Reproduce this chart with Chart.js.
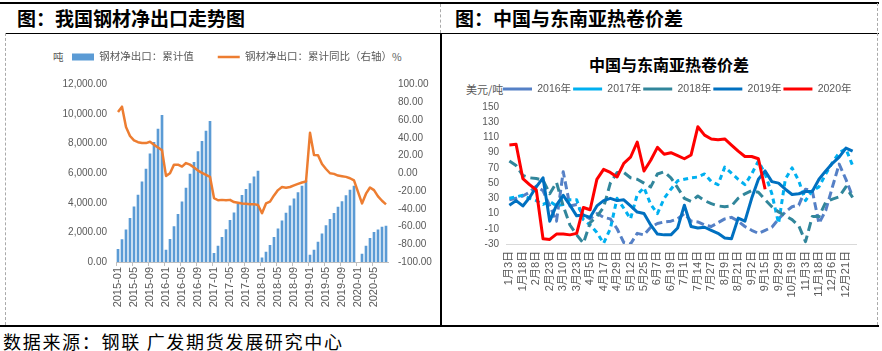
<!DOCTYPE html>
<html><head><meta charset="utf-8">
<script src="https://cdn.jsdelivr.net/npm/chart.js@4.4.1/dist/chart.umd.min.js"></script>
<style>
html,body{margin:0;padding:0;background:#fff;}
#wrap{position:relative;width:882px;height:351px;overflow:hidden;font-family:"Noto Sans CJK SC",sans-serif;}
.ln{position:absolute;}
.t{position:absolute;white-space:nowrap;line-height:1;}
canvas{position:absolute;}
</style></head><body>
<div id="wrap">
  <div class="ln" style="left:0;top:1.5px;width:879px;height:2px;background:#000"></div>
  <div class="ln" style="left:5px;top:32.5px;width:874px;height:1.6px;background:#000"></div>
  <div class="ln" style="left:5px;top:33px;width:0;height:292px;border-left:1px dashed #aaa"></div>
  <div class="ln" style="left:440px;top:4px;width:0;height:29px;border-left:1px dashed #aaa"></div>
  <div class="ln" style="left:440px;top:33px;width:2px;height:293px;background:#000"></div>
  <div class="ln" style="left:877px;top:3px;width:0;height:322px;border-left:1px dashed #aaa"></div>
  <div class="ln" style="left:0;top:324.5px;width:879px;height:2.5px;background:#000"></div>

  <div class="t" style="left:17px;top:8px;font-size:19px;font-weight:700;color:#000">图：我国钢材净出口走势图</div>
  <div class="t" style="left:455px;top:8px;font-size:19px;font-weight:700;color:#000">图：中国与东南亚热卷价差</div>
  <div class="t" style="left:589px;top:56px;font-size:16px;font-weight:700;color:#000">中国与东南亚热卷价差</div>
  <div class="t" style="left:53px;top:51.5px;font-size:10.5px;color:#595959">吨</div>
  <div class="t" style="left:392px;top:51.5px;font-size:10.5px;color:#595959">%</div>
  <div class="t" style="left:466px;top:83.5px;font-size:11px;color:#595959">美元/吨</div>
  <div class="t" style="left:3px;top:332px;font-size:18px;letter-spacing:1.7px;color:#000">数据来源：钢联 广发期货发展研究中心</div>

  <canvas id="cL" width="470" height="325" style="left:0;top:0"></canvas>
  <canvas id="cR" width="441" height="325" style="left:441px;top:0"></canvas>
</div>
<script>
// ---------- Left chart data ----------
const years = ['2015','2016','2017','2018','2019','2020'];
const monthNums = ['01','02','03','04','05','06','07','08','09','10','11','12'];
const monthLabels = [];
years.forEach(y => monthNums.forEach(m => monthLabels.push(y + '-' + m)));
monthLabels.length = 68; // 2015-01 .. 2020-08

const netExportCum = [
  850,1510,2180,2950,3730,4530,5420,6290,7310,8090,8980,9910,
  800,1530,2400,3220,4070,5000,5950,6730,7470,8150,8850,9510,
  580,1070,1670,2200,2820,3330,3910,4510,4910,5310,5750,6150,
  290,670,1130,1670,2240,2780,3310,3800,4270,4690,5130,5490,
  470,800,1350,1910,2470,2890,3290,3710,4090,4490,4870,5130,
  null,530,1070,1600,2000,2180,2360,2420
];
const netExportYoY = [
  69,75,52,42,37,35,34,34,35.5,32,29,26,
  -3,0,9.7,9.7,7.5,11.5,9.7,6.5,3,0.5,-1.8,-4,
  -28,-30.4,-30,-30.4,-30,-32.5,-33.3,-34,-34.4,-34.8,-34.8,-35.8,
  -45,-34,-32,-25,-19,-15.5,-16.3,-15.5,-13.7,-12,-10.4,-9.3,
  45.6,20.6,20.4,10.4,4.8,0,-0.7,-2.6,-3.3,-4.1,-5.6,-8.1,
  null,-34,-23,-16,-19,-26,-31,-35
];

// ---------- Right chart data ----------
const dateLabels = ['1月3日','1月18日','2月8日','2月23日','3月10日','3月23日','4月5日','4月17日','4月29日',
  '5月12日','5月25日','6月7日','6月19日','7月1日','7月14日','7月27日','8月9日','8月21日','9月2日',
  '9月15日','9月29日','10月19日','11月3日','11月18日','12月6日','12月21日'];
const spread2016 = [28,30,33,38,46,40,20,0,65,20,22,8,3,10,5,3,-10,-28,-30,-16,-18,-8,-3,-1,0,3,10,0,-1,-5,
  -7,-2,3,5,0,-7,-12,-16,-12,-8,3,12,19,21,42,40,-3,14,45,75,55,32];
const spread2017 = [30,32,34,30,27,22,26,20,22,28,28,2,-5,-15,-29,-10,30,17,3,35,44,22,10,30,42,53,55,57,58,62,
  52,48,71,63,55,48,62,79,62,36,-3,55,70,53,27,40,45,62,77,90,95,73];
const spread2018 = [79,73,60,57,56,54,36,51,20,-5,-18,-29,-2,6,18,50,64,64,57,55,50,45,62,65,57,44,30,26,33,27,
  23,20,19,20,30,36,40,38,28,19,12,7,2,-6,-27,6,6,25,29,32,45,31];
const spread2019 = [21,27,20,31,45,57,0,21,34,21,7,8,5,20,27,30,27,28,20,12,10,-5,-17,-18,-18,-9,21,-7,-9,-8,
  -12,-16,-22,-23,4,0,30,55,66,52,50,42,35,36,39,39,55,66,76,84,96,92];
const spread2020 = [100,101,56,48,41,-23,-24,-17,-17,-18,-16,18,15,55,68,64,58,76,84,104,66,80,97,88,90,86,82,87,124,113,
  108,107,108,100,92,85,85,82,42];
const weekCats = [];
dateLabels.forEach(d => { weekCats.push(d); weekCats.push(''); });

// ---------- common ----------
Chart.defaults.font.family = "'Liberation Sans','Noto Sans CJK SC',sans-serif";
Chart.defaults.color = '#595959';
Chart.defaults.animation = false;

const grayAxis = '#BFBFBF';

// moves the legend (after layout) so its first item starts at startX and its row is centred at centerY
function legendPlacer(startX, centerY) {
  return {
    id: 'legendPlacer',
    afterLayout(chart) {
      const lg = chart.legend;
      const o = lg.options.labels;
      const fs = o.font.size;
      const dy = centerY - (lg.top + o.padding + fs / 2);
      lg.top += dy; lg.bottom += dy;
      const dx = startX - (lg.left + o.padding);
      lg.left += dx; lg.right += dx;
    }
  };
}

new Chart(document.getElementById('cL'), {
  type: 'bar',
  data: {
    labels: monthLabels,
    datasets: [
      { type: 'bar', label: '钢材净出口：累计值', data: netExportCum, yAxisID: 'y',
        backgroundColor: '#5B9BD5', borderWidth: 0, barThickness: 2, order: 1, pointStyle: 'rect' },
      { type: 'line', label: '钢材净出口：累计同比（右轴）', data: netExportYoY, yAxisID: 'y1',
        borderColor: '#ED7D31', backgroundColor: '#ED7D31', borderWidth: 2.5, pointRadius: 0,
        tension: 0, spanGaps: true, order: 0, pointStyle: 'line', borderJoinStyle: 'round' }
    ]
  },
  plugins: [legendPlacer(72, 57)],
  options: {
    responsive: false, devicePixelRatio: 1,
    layout: { padding: { left: 48, right: 0, top: 40, bottom: 0 } },
    plugins: {
      tooltip: { enabled: false },
      legend: {
        position: 'top', align: 'start',
        labels: { usePointStyle: true, pointStyleWidth: 22, boxHeight: 7, padding: 24,
          font: { size: 10.5 }, color: '#595959',
          sort: (a, b) => a.datasetIndex - b.datasetIndex }
      }
    },
    scales: {
      x: {
        offset: true,
        grid: { display: true, drawOnChartArea: false, drawTicks: true, tickLength: 4, offset: true,
          color: c => (c.index % 4 === 0 ? grayAxis : 'rgba(0,0,0,0)') },
        border: { display: true, color: grayAxis },
        ticks: { autoSkip: false, minRotation: 90, maxRotation: 90, padding: 1, font: { size: 11 },
          callback: (v, i) => (i % 4 === 0 ? monthLabels[i] : '') },
        afterFit: s => { s.height = 63; }
      },
      y: {
        position: 'left', min: 0, max: 12000,
        grid: { display: false, drawTicks: false }, border: { display: false },
        ticks: { stepSize: 2000, padding: 9, font: { size: 10 },
          callback: v => v.toLocaleString('en-US', { minimumFractionDigits: 2, maximumFractionDigits: 2 }) },
        afterFit: s => { s.width = 68; }
      },
      y1: {
        position: 'right', min: -100, max: 100,
        grid: { display: false, drawTicks: false }, border: { display: false },
        ticks: { stepSize: 20, padding: 10, font: { size: 10 }, callback: v => Number(v).toFixed(2) },
        afterFit: s => { s.width = 82; }
      }
    }
  }
});

const mkLine = (label, data, color, dash, order) => ({
  label, data, borderColor: color, backgroundColor: color, borderWidth: 3, borderDash: dash,
  pointRadius: 0, tension: 0, fill: false, order, pointStyle: 'line', borderCapStyle: 'butt',
  borderJoinStyle: 'round'
});

new Chart(document.getElementById('cR'), {
  type: 'line',
  data: {
    labels: weekCats,
    datasets: [
      mkLine('2016年', spread2016, '#5580C6', [8, 4], 4),
      mkLine('2017年', spread2017, '#00B0F0', [5, 4], 3),
      mkLine('2018年', spread2018, '#31869B', [9, 5], 2),
      mkLine('2019年', spread2019, '#0070C0', [], 1),
      mkLine('2020年', spread2020, '#FF0000', [], 0)
    ]
  },
  plugins: [legendPlacer(62, 89)],
  options: {
    responsive: false, devicePixelRatio: 1,
    layout: { padding: { left: 0, right: 26, top: 84.5, bottom: 0 } },
    plugins: {
      tooltip: { enabled: false },
      legend: {
        position: 'top', align: 'start',
        labels: { usePointStyle: true, pointStyleWidth: 29, boxHeight: 8, padding: 2,
          font: { size: 10.5 }, color: '#595959',
          sort: (a, b) => a.datasetIndex - b.datasetIndex }
      }
    },
    scales: {
      x: {
        offset: true,
        grid: { display: false, drawTicks: false },
        border: { display: true, color: '#D9D9D9' },
        ticks: { autoSkip: false, minRotation: 90, maxRotation: 90, padding: 7, font: { size: 11 } },
        afterFit: s => { s.height = 81; }
      },
      y: {
        min: -30, max: 150,
        grid: { display: false, drawTicks: false }, border: { display: false },
        ticks: { stepSize: 20, padding: 7, font: { size: 10 } },
        afterFit: s => { s.width = 65; }
      }
    }
  }
});
</script>
</body></html>
